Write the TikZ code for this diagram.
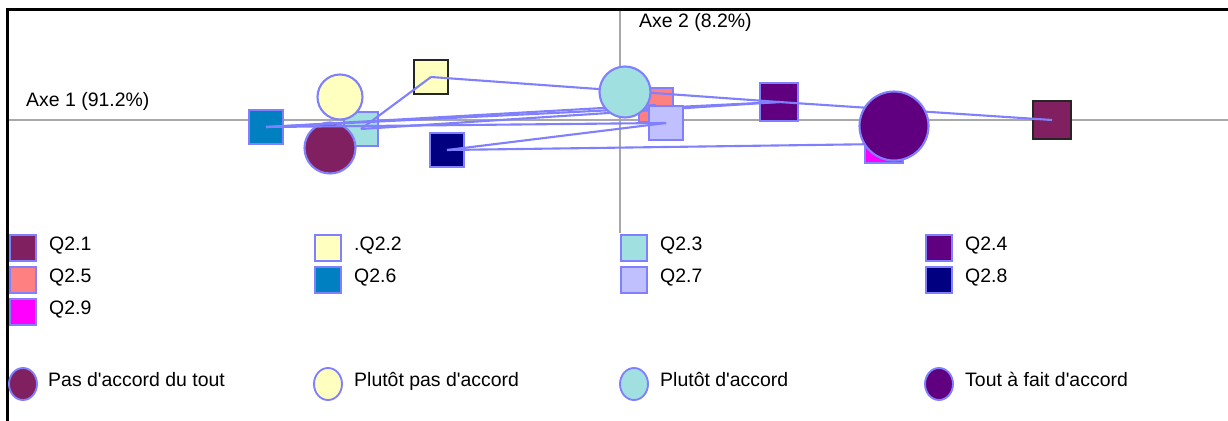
\documentclass[tikz,border=0pt]{standalone}
\usepackage{fontspec}
\setmainfont{Liberation Sans}
\usetikzlibrary{shapes.geometric}
\definecolor{linkblue}{HTML}{8080FF}
\definecolor{axisgray}{HTML}{A8A8A8}
\definecolor{qone}{HTML}{802060}
\definecolor{qtwo}{HTML}{FFFFC0}
\definecolor{qthree}{HTML}{A0E0E0}
\definecolor{qfour}{HTML}{600080}
\definecolor{qfive}{HTML}{FF8080}
\definecolor{qsix}{HTML}{0080C0}
\definecolor{qseven}{HTML}{C0C0FF}
\definecolor{qeight}{HTML}{000080}
\definecolor{qnine}{HTML}{FF00FF}
\newcommand{\apos}{\textquotesingle}

\begin{document}
\begin{tikzpicture}[
	x=0.03cm, y=-0.03cm,
	font=\fontsize{16.6}{19}\selectfont,
	% Styles for the plotted points
	qbox/.style={draw=linkblue, line width=1.8pt, inner sep=0pt, minimum size=1.02cm},
	bigbox/.style={qbox, minimum size=1.14cm},
	catdot/.style={circle, draw=linkblue, line width=1.8pt, inner sep=0pt},
	% Styles for the legend
	legbox/.style={draw=linkblue, line width=1.6pt, inner sep=0pt, minimum size=0.78cm},
	legdot/.style={ellipse, draw=linkblue, line width=1.6pt, inner sep=0pt, minimum width=0.84cm, minimum height=0.96cm},
	legtext/.style={anchor=base west, inner sep=0pt},
	% Styles for axes and links
	axisline/.style={draw=axisgray, line width=1.2pt},
	linkline/.style={draw=linkblue, line width=1.8pt}
	]
	\useasboundingbox (0,0) rectangle (1228,421);
	
	% ==========================================
	% FRAME AND AXES
	% ==========================================
	\draw[line width=2.1pt] (7.5,421) -- (7.5,9.5) -- (1228,9.5);
	\draw[axisline] (8.5,120) -- (1228,120);
	\draw[axisline] (620,10.5) -- (620,233);
	\node[legtext] (axeone) at (26,106) {Axe 1 (91.2\%)};
	\node[legtext] (axetwo) at (639,27) {Axe 2 (8.2\%)};
	
	% ==========================================
	% QUESTIONS (squares)
	% ==========================================
	\node[bigbox, fill=qone, draw=black!85] (q21) at (1052,120) {};
	\node[qbox, fill=qtwo, draw=black!85, line width=1.3pt] (q22) at (431,77) {};
	\node[qbox, fill=qthree] (q23) at (361,129) {};
	\node[bigbox, fill=qfour] (q24) at (779,102) {};
	\node[qbox, fill=qfive] (q25) at (656,105) {};
	\node[qbox, fill=qsix] (q26) at (266,127) {};
	\node[qbox, fill=qeight] (q28) at (447,150) {};
	\node[bigbox, fill=qnine] (q29) at (884,144) {};
	
	% Answers lying under the links
	\node[catdot, fill=qone, minimum size=1.53cm] (pasdutout) at (330,148) {};
	\node[catdot, fill=qtwo, minimum size=1.35cm] (plutotpas) at (340,97) {};
	
	% Links between questions
	\draw[linkline] (q21.center) -- (q24.center);
	\draw[linkline] (q22.center) -- (q24.center);
	\draw[linkline] (q22.center) -- (q23.center);
	\draw[linkline] (q23.center) -- (q24.center);
	\draw[linkline] (q26.center) -- (q24.center);
	\draw[linkline] (q26.center) -- (q25.center);
	\draw[linkline] (q28.center) -- (q29.center);
	
	\node[qbox, fill=qseven] (q27) at (666,123) {};
	\draw[linkline] (q26.center) -- (q27.center);
	\draw[linkline] (q28.center) -- (q27.center);
	
	% Answers on top
	\node[catdot, fill=qthree, minimum size=1.53cm] (plutotok) at (625,92) {};
	\node[catdot, fill=qfour, minimum size=2.07cm] (toutafait) at (894,126) {};
	
	% ==========================================
	% LEGEND
	% ==========================================
	\node[legbox, fill=qone] (lq21) at (23,248) {};
	\node[legtext] (tq21) at (49,250) {Q2.1};
	\node[legbox, fill=qtwo] (lq22) at (328,248) {};
	\node[legtext] (tq22) at (354,250) {.Q2.2};
	\node[legbox, fill=qthree] (lq23) at (634,248) {};
	\node[legtext] (tq23) at (660,250) {Q2.3};
	\node[legbox, fill=qfour] (lq24) at (939,248) {};
	\node[legtext] (tq24) at (965,250) {Q2.4};
	
	\node[legbox, fill=qfive] (lq25) at (23,280) {};
	\node[legtext] (tq25) at (49,282) {Q2.5};
	\node[legbox, fill=qsix] (lq26) at (328,280) {};
	\node[legtext] (tq26) at (354,282) {Q2.6};
	\node[legbox, fill=qseven] (lq27) at (634,280) {};
	\node[legtext] (tq27) at (660,282) {Q2.7};
	\node[legbox, fill=qeight] (lq28) at (939,280) {};
	\node[legtext] (tq28) at (965,282) {Q2.8};
	
	\node[legbox, fill=qnine] (lq29) at (23,312) {};
	\node[legtext] (tq29) at (49,314) {Q2.9};
	
	% Answer categories
	\node[legdot, fill=qone] (lpasdutout) at (23,384) {};
	\node[legtext] (tpasdutout) at (48,386) {Pas d\apos accord du tout};
	\node[legdot, fill=qtwo] (lplutotpas) at (328,384) {};
	\node[legtext] (tplutotpas) at (354,386) {Plutôt pas d\apos accord};
	\node[legdot, fill=qthree] (lplutotok) at (634,384) {};
	\node[legtext] (tplutotok) at (660,386) {Plutôt d\apos accord};
	\node[legdot, fill=qfour] (ltoutafait) at (939,384) {};
	\node[legtext] (ttoutafait) at (965,386) {Tout à fait d\apos accord};
	
\end{tikzpicture}
\end{document}
